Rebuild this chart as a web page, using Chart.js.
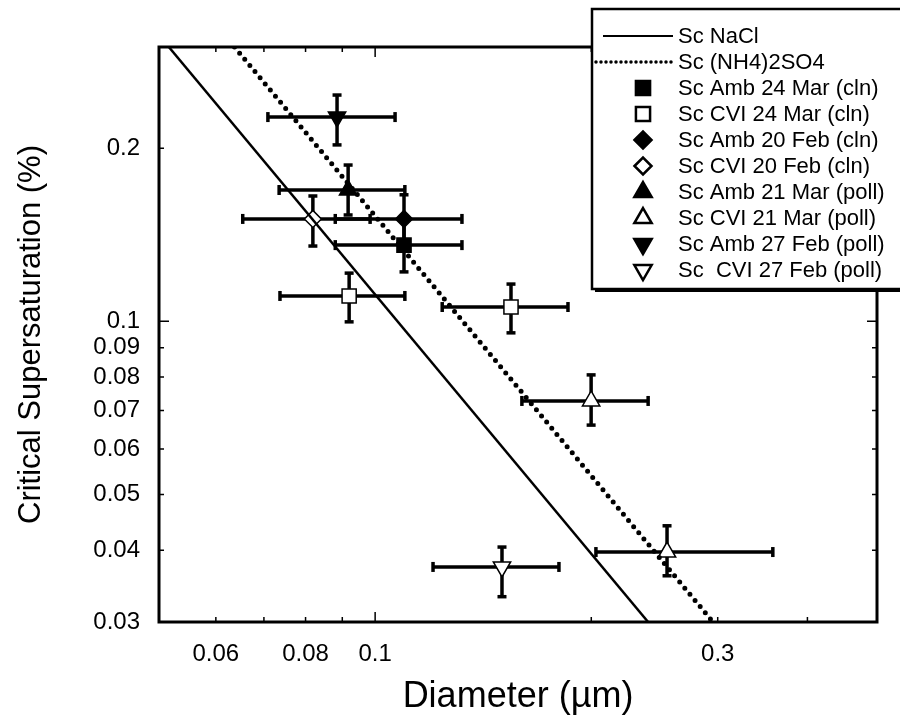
<!DOCTYPE html>
<html>
<head>
<meta charset="utf-8">
<script src="https://cdn.jsdelivr.net/npm/chart.js@4.4.1/dist/chart.umd.min.js"></script>
<style>
  html, body { margin: 0; padding: 0; background: #fff; }
  canvas { display: block; }
</style>
</head>
<body>
<canvas id="chart" width="900" height="721"></canvas>
<script>
Chart.defaults.font.family = "'Liberation Sans', Arial, sans-serif"
Chart.defaults.color = '#000'

// axis ticks
const xTicks = [0.06, 0.07, 0.08, 0.09, 0.1, 0.2, 0.3, 0.4]
const xTickLabels = [0.06, 0.08, 0.1, 0.3]
const yTicks = [0.03, 0.04, 0.05, 0.06, 0.07, 0.08, 0.09, 0.1, 0.2]
const yTickLabels = [0.03, 0.04, 0.05, 0.06, 0.07, 0.08, 0.09, 0.1, 0.2]

// theory lines: [diameter, Sc] end points
const naclLine = [[0.0516, 0.3], [0.240, 0.03]]
const amsLine = [[0.0637, 0.3], [0.2955, 0.03]]

// measurements: [diameter, Sc, dLow, dHigh, scLow, scHigh]
const amb24Mar = [[0.1097, 0.1357, 0.088, 0.1321, 0.1219, 0.150]]
const cvi24Mar = [[0.0920, 0.1107, 0.0737, 0.110, 0.0998, 0.1213], [0.1546, 0.1059, 0.124, 0.1856, 0.0955, 0.1161]]
const amb20Feb = [[0.1097, 0.1507, 0.088, 0.1321, 0.1355, 0.166]]
const cvi20Feb = [[0.0819, 0.1507, 0.0654, 0.0984, 0.1352, 0.1652]]
const amb21Mar = [[0.0917, 0.1692, 0.0735, 0.110, 0.1531, 0.187]]
const cvi21Mar = [[0.1999, 0.0727, 0.1601, 0.240, 0.066, 0.0807], [0.255, 0.0397, 0.203, 0.358, 0.0361, 0.0441]]
const amb27Feb = [[0.0885, 0.2266, 0.0709, 0.1066, 0.2027, 0.2475]]
const cvi27Feb = [[0.1502, 0.0374, 0.1204, 0.1803, 0.0332, 0.0405]]

const pts = rows => rows.map(r => ({ x: r[0], y: r[1] }))

const lineSet = (label, rows, dash) => ({
  type: 'line',
  label,
  data: pts(rows),
  showLine: true,
  borderColor: '#000',
  borderWidth: dash ? 5 : 2.5,
  borderDash: dash ? [0, 8] : [],
  borderCapStyle: dash ? 'round' : 'butt',
  pointRadius: 0,
  fill: false
})

const pointSet = (label, rows, style, filled, rot) => ({
  label,
  data: pts(rows),
  rows,
  pointStyle: style,
  pointRotation: rot || 0,
  pointRadius: style === 'rectRot' ? 8.5 : 10,
  pointBackgroundColor: filled ? '#000' : '#fff',
  pointBorderColor: '#000',
  pointBorderWidth: 1.5
})

const errorBars = {
  id: 'errorBars',
  beforeDatasetsDraw(chart) {
    const { ctx, scales: { x, y } } = chart
    ctx.save()
    ctx.strokeStyle = '#000'
    ctx.lineWidth = 3.5
    const seg = (a, b, c, d) => { ctx.beginPath(); ctx.moveTo(a, b); ctx.lineTo(c, d); ctx.stroke() }
    chart.data.datasets.forEach(ds => {
      if (!ds.rows) return
      ds.rows.forEach(r => {
        const px = x.getPixelForValue(r[0])
        const py = y.getPixelForValue(r[1])
        const x0 = x.getPixelForValue(r[2])
        const x1 = x.getPixelForValue(r[3])
        const y0 = y.getPixelForValue(r[4])
        const y1 = y.getPixelForValue(r[5])
        seg(x0, py, x1, py)
        seg(x0, py - 5, x0, py + 5)
        seg(x1, py - 5, x1, py + 5)
        seg(px, y0, px, y1)
        seg(px - 4.5, y0, px + 4.5, y0)
        seg(px - 4.5, y1, px + 4.5, y1)
      })
    })
    ctx.restore()
  }
}

const frame = {
  id: 'frame',
  afterDatasetsDraw(chart) {
    const { ctx, chartArea: { left, right, top, bottom }, scales: { x, y } } = chart
    ctx.save()
    ctx.strokeStyle = '#000'
    ctx.lineWidth = 1.5
    xTicks.forEach(v => {
      const px = x.getPixelForValue(v)
      const len = v === 0.1 ? 10 : 5
      ctx.beginPath()
      ctx.moveTo(px, bottom); ctx.lineTo(px, bottom - len)
      ctx.moveTo(px, top); ctx.lineTo(px, top + len)
      ctx.stroke()
    })
    yTicks.forEach(v => {
      const py = y.getPixelForValue(v)
      const len = v === 0.1 ? 10 : 5
      ctx.beginPath()
      ctx.moveTo(left, py); ctx.lineTo(left + len, py)
      ctx.moveTo(right, py); ctx.lineTo(right - len, py)
      ctx.stroke()
    })
    ctx.lineWidth = 3
    ctx.strokeRect(left, top, right - left, bottom - top)
    ctx.restore()
  }
}

const legendBox = {
  id: 'legendBox',
  afterDraw(chart) {
    const { ctx } = chart
    const bx = 592, by = 9, bw = 320, bh = 280
    ctx.save()
    ctx.fillStyle = '#000'
    ctx.fillRect(bx + 3, by + 3, bw, bh)
    ctx.fillStyle = '#fff'
    ctx.fillRect(bx, by, bw, bh)
    ctx.strokeStyle = '#000'
    ctx.lineWidth = 2.5
    ctx.strokeRect(bx, by, bw, bh)
    ctx.font = "22px 'Liberation Sans', Arial, sans-serif"
    ctx.textBaseline = 'middle'
    chart.data.datasets.forEach((ds, i) => {
      const ly = 36 + i * 26
      if (ds.type === 'line') {
        ctx.save()
        ctx.strokeStyle = '#000'
        ctx.lineWidth = ds.borderDash.length ? 3.5 : 2
        ctx.lineCap = ds.borderCapStyle
        ctx.setLineDash(ds.borderDash.length ? [0, 5] : [])
        ctx.beginPath()
        ctx.moveTo(ds.borderDash.length ? 596 : 603, ly)
        ctx.lineTo(673, ly)
        ctx.stroke()
        ctx.restore()
      } else {
        ctx.fillStyle = ds.pointBackgroundColor
        ctx.strokeStyle = '#000'
        Chart.helpers.drawPoint(ctx, {
          pointStyle: ds.pointStyle,
          rotation: ds.pointRotation,
          radius: ds.pointRadius,
          borderWidth: 1.5
        }, 643, ly)
      }
      ctx.fillStyle = '#000'
      ctx.fillText(ds.label, 678, ly + 1)
    })
    ctx.restore()
  }
}

new Chart(document.getElementById('chart'), {
  type: 'scatter',
  plugins: [errorBars, frame, legendBox],
  data: {
    datasets: [
      lineSet('Sc NaCl', naclLine, false),
      lineSet('Sc (NH4)2SO4', amsLine, true),
      pointSet('Sc Amb 24 Mar (cln)', amb24Mar, 'rect', true),
      pointSet('Sc CVI 24 Mar (cln)', cvi24Mar, 'rect', false),
      pointSet('Sc Amb 20 Feb (cln)', amb20Feb, 'rectRot', true),
      pointSet('Sc CVI 20 Feb (cln)', cvi20Feb, 'rectRot', false),
      pointSet('Sc Amb 21 Mar (poll)', amb21Mar, 'triangle', true),
      pointSet('Sc CVI 21 Mar (poll)', cvi21Mar, 'triangle', false),
      pointSet('Sc Amb 27 Feb (poll)', amb27Feb, 'triangle', true, 180),
      pointSet('Sc  CVI 27 Feb (poll)', cvi27Feb, 'triangle', false, 180)
    ]
  },
  options: {
    responsive: false,
    animation: false,
    layout: { padding: { left: 0, top: 47, right: 23, bottom: 0 } },
    plugins: { legend: { display: false }, tooltip: { enabled: false } },
    scales: {
      x: {
        type: 'logarithmic',
        min: 0.05,
        max: 0.5,
        afterBuildTicks: s => { s.ticks = xTicks.map(v => ({ value: v })) },
        afterFit: s => { s.height = 99 },
        grid: { display: false, drawTicks: false },
        border: { display: false },
        ticks: {
          autoSkip: false,
          maxRotation: 0,
          padding: 18,
          font: { size: 24 },
          color: '#000',
          callback: v => xTickLabels.includes(v) ? String(v) : ''
        },
        title: { display: true, text: 'Diameter (µm)', font: { size: 36 }, color: '#000', padding: { top: 0, bottom: 2 } }
      },
      y: {
        type: 'logarithmic',
        min: 0.03,
        max: 0.3,
        afterBuildTicks: s => { s.ticks = yTicks.map(v => ({ value: v })) },
        afterFit: s => { s.width = 159 },
        grid: { display: false, drawTicks: false },
        border: { display: false },
        ticks: {
          autoSkip: false,
          padding: 19,
          font: { size: 24 },
          color: '#000',
          callback: v => yTickLabels.includes(v) ? String(v) : ''
        },
        title: { display: true, text: 'Critical Supersaturation (%)', font: { size: 31 }, color: '#000', padding: { top: 13, bottom: 0 } }
      }
    }
  }
})
</script>
</body>
</html>
